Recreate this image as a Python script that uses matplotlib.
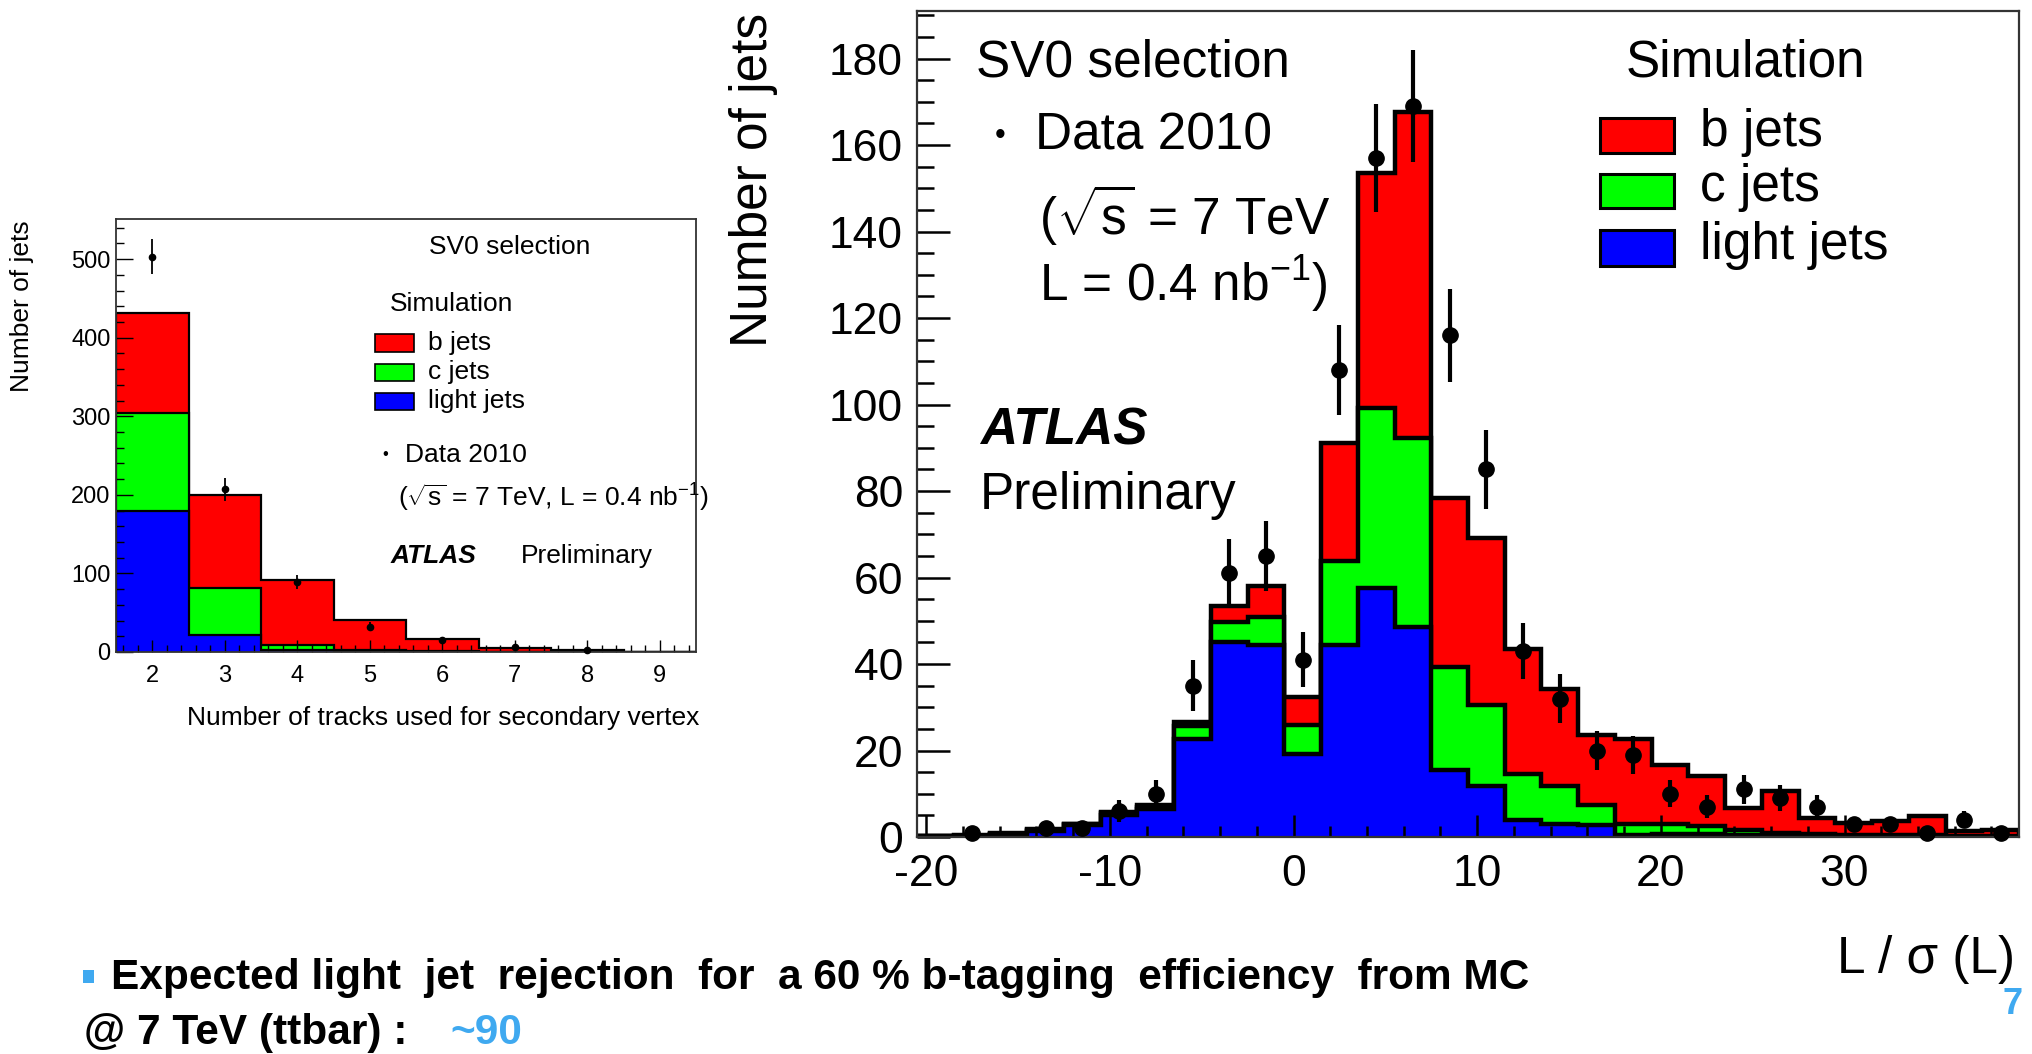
import numpy as np
import matplotlib
matplotlib.use("Agg")
from matplotlib import pyplot as plt
from matplotlib.ticker import MultipleLocator
from matplotlib.patches import Rectangle

plt.rcParams['font.family'] = ['Liberation Sans', 'DejaVu Sans']
plt.rcParams['mathtext.fontset'] = 'custom'
plt.rcParams['mathtext.rm'] = 'Liberation Sans'
plt.rcParams['mathtext.it'] = 'Liberation Sans:italic'
plt.rcParams['mathtext.bf'] = 'Liberation Sans:bold'
plt.rcParams['axes.unicode_minus'] = False

# ---- left plot: number of tracks at the secondary vertex ----
ntrk_edges = np.arange(1.5, 10.0, 1.0)
ntrk_light = [179, 22, 3, 1, 0.5, 0.2, 0.1, 0.0]
ntrk_c = [125, 59, 6, 1, 0.5, 0.3, 0.1, 0.0]
ntrk_b = [128, 119, 82, 39, 15, 4.5, 2.3, 0.5]
ntrk_data_x = [2, 3, 4, 5, 6, 7, 8]
ntrk_data = [503, 207, 89, 32, 15, 6, 3]

# ---- right plot: decay length significance L/sigma(L) ----
sig_edges = np.arange(-20.5, 40.0, 2.0)
sig_light = [0.2, 0.3, 0.6, 1.5, 2.8, 5.2, 6.4, 22.7, 45.0, 44.4,
             19.1, 44.5, 57.5, 48.5, 15.5, 11.9, 3.9, 3.1, 2.7, 0.5,
             0.8, 0.6, 0.4, 0.2, 0.2, 0.1, 0.1, 0.1, 0.1, 0.1]
sig_c = [0.0, 0.0, 0.1, 0.1, 0.1, 0.3, 0.5, 3.0, 4.8, 6.4,
         6.7, 19.4, 41.8, 43.7, 23.7, 18.7, 10.6, 8.7, 4.6, 2.6,
         2.1, 1.9, 1.2, 0.8, 0.6, 0.4, 0.3, 0.3, 0.2, 0.2]
sig_b = [0.1, 0.2, 0.2, 0.2, 0.1, 0.3, 0.4, 0.9, 3.7, 7.2,
         6.5, 27.3, 54.3, 75.4, 39.3, 38.6, 29.0, 22.4, 16.2, 19.5,
         13.7, 11.6, 5.2, 9.6, 3.6, 2.8, 3.3, 4.4, 1.1, 1.4]
sig_data_x = [-17.5, -13.5, -11.5, -9.5, -7.5, -5.5, -3.5, -1.5, 0.5, 2.5,
              4.5, 6.5, 8.5, 10.5, 12.5, 14.5, 16.5, 18.5, 20.5, 22.5,
              24.5, 26.5, 28.5, 30.5, 32.5, 34.5, 36.5, 38.5]
sig_data = [1, 2, 2, 6, 10, 35, 61, 65, 41, 108,
            157, 169, 116, 85, 43, 32, 20, 19, 10, 7,
            11, 9, 7, 3, 3, 1, 4, 1]

RED, GREEN, BLUE = '#ff0000', '#00ff00', '#0000ff'
ACCENT = '#3fa9f0'

W, H = 2032, 1054
fig = plt.figure(figsize=(W / 100, H / 100), dpi=100)


def px(x, y):
    return x / W, 1 - y / H


def stack(ax, edges, light, c, b, lw):
    light = np.array(light)
    lc = light + np.array(c)
    tot = lc + np.array(b)
    for vals, col in [(tot, RED), (lc, GREEN), (light, BLUE)]:
        ax.stairs(vals, edges, fill=True, facecolor=col, edgecolor='black',
                  linewidth=lw, zorder=1)


# left axes
ax1 = fig.add_axes([116 / W, 1 - 652 / H, 580 / W, 433 / H])
stack(ax1, ntrk_edges, ntrk_light, ntrk_c, ntrk_b, 1.6)
ax1.errorbar(ntrk_data_x, ntrk_data, yerr=np.sqrt(ntrk_data), fmt='o',
             color='black', ms=4.5, elinewidth=1.3, capsize=0, zorder=5,
             clip_on=False)
ax1.set_xlim(1.5, 9.5)
ax1.set_ylim(0, 551)
ax1.xaxis.set_major_locator(MultipleLocator(1))
ax1.xaxis.set_minor_locator(MultipleLocator(0.2))
ax1.yaxis.set_major_locator(MultipleLocator(100))
ax1.yaxis.set_minor_locator(MultipleLocator(20))
ax1.tick_params(which='both', direction='in', labelsize=17, width=1.0)
ax1.tick_params(axis='y', which='major', length=12, pad=4)
ax1.tick_params(axis='y', which='minor', length=6)
ax1.tick_params(axis='x', which='major', length=9, pad=9)
ax1.tick_params(axis='x', which='minor', length=5)
for s in ax1.spines.values():
    s.set_linewidth(1.3)
    s.set_color('#333333')

# right axes
ax2 = fig.add_axes([917 / W, 1 - 837 / H, 1102 / W, 826 / H])
stack(ax2, sig_edges, sig_light, sig_c, sig_b, 3.2)
ax2.errorbar(sig_data_x, sig_data, yerr=np.sqrt(sig_data), fmt='o',
             color='black', ms=11, elinewidth=3, capsize=0, zorder=5,
             clip_on=False)
ax2.set_xlim(-20.5, 39.5)
ax2.set_ylim(0, 191)
ax2.xaxis.set_major_locator(MultipleLocator(10))
ax2.xaxis.set_minor_locator(MultipleLocator(2))
ax2.yaxis.set_major_locator(MultipleLocator(20))
ax2.yaxis.set_minor_locator(MultipleLocator(5))
ax2.tick_params(which='both', direction='in', labelsize=32, width=1.8)
ax2.tick_params(axis='y', which='major', length=24, pad=10)
ax2.tick_params(axis='y', which='minor', length=12)
ax2.tick_params(axis='x', which='major', length=16, pad=12)
ax2.tick_params(axis='x', which='minor', length=8)
for s in ax2.spines.values():
    s.set_linewidth(1.6)
    s.set_color('#333333')

# left plot texts
fig.text(*px(22, 220), 'Number of jets', rotation=90, ha='center', va='top', fontsize=19)
fig.text(*px(699, 718), 'Number of tracks used for secondary vertex', ha='right', va='center', fontsize=19)
fig.text(*px(429, 247), 'SV0 selection', va='center', fontsize=19)
fig.text(*px(390, 304), 'Simulation', va='center', fontsize=19)
for y0, y1, col, lab in [(334, 352, RED, 'b jets'), (364, 381, GREEN, 'c jets'),
                         (393, 410, BLUE, 'light jets')]:
    x0, y0f = px(375, y1)
    fig.add_artist(Rectangle((x0, y0f), 39 / W, (y1 - y0) / H, facecolor=col,
                             edgecolor='black', linewidth=1.2, transform=fig.transFigure))
    fig.text(*px(428, (y0 + y1) / 2), lab, va='center', fontsize=19)
fig.text(*px(385, 455), '•', ha='center', va='center', fontsize=12)
fig.text(*px(405, 455), 'Data 2010', va='center', fontsize=19)
fig.text(*px(398, 498), r'($\sqrt{\mathrm{s}}$ = 7 TeV, L = 0.4 nb$^{-1}$)', va='center', fontsize=19)
fig.text(*px(391, 556), 'ATLAS', va='center', fontsize=19, fontweight='bold', fontstyle='italic')
fig.text(*px(521, 556), 'Preliminary', va='center', fontsize=19)

# right plot texts
fig.text(*px(754, 13), 'Number of jets', rotation=90, ha='center', va='top', fontsize=37)
fig.text(*px(2015, 959), 'L / σ (L)', ha='right', va='center', fontsize=37)
fig.text(*px(976, 63), 'SV0 selection', va='center', fontsize=37)
fig.text(*px(1000, 136), '•', ha='center', va='center', fontsize=22)
fig.text(*px(1035, 136), 'Data 2010', va='center', fontsize=37)
fig.text(*px(1039, 215), r'($\sqrt{\mathrm{s}}$ = 7 TeV', va='center', fontsize=37)
fig.text(*px(1039, 284), r'L = 0.4 nb$^{-1}$)', va='center', fontsize=37)
fig.text(*px(980, 431), 'ATLAS', va='center', fontsize=37, fontweight='bold', fontstyle='italic')
fig.text(*px(980, 495), 'Preliminary', va='center', fontsize=37)
fig.text(*px(1626, 63), 'Simulation', va='center', fontsize=37)
for y0, y1, col, lab in [(118, 153, RED, 'b jets'), (174, 208, GREEN, 'c jets'),
                         (230, 266, BLUE, 'light jets')]:
    x0, y0f = px(1600, y1)
    fig.add_artist(Rectangle((x0, y0f), 74 / W, (y1 - y0) / H, facecolor=col,
                             edgecolor='black', linewidth=2.2, transform=fig.transFigure))
    fig.text(*px(1700, (y0 + y1) / 2 - 3), lab, va='center', fontsize=37)

# slide text
fig.add_artist(Rectangle(px(83, 983), 11 / W, 13 / H, facecolor=ACCENT,
                         edgecolor='none', transform=fig.transFigure))
fig.text(*px(111, 978), 'Expected light  jet  rejection  for  a 60 % b-tagging  efficiency  from MC',
         va='center', fontsize=30.5, fontweight='bold')
fig.text(*px(84, 1033), '@ 7 TeV (ttbar) :', va='center', fontsize=30.5, fontweight='bold')
fig.text(*px(450, 1033), '~90', va='center', fontsize=30.5, fontweight='bold', color=ACCENT)
fig.text(*px(2013, 1004), '7', ha='center', va='center', fontsize=26, fontweight='bold', color=ACCENT)

fig.savefig('out.png', dpi=100)
